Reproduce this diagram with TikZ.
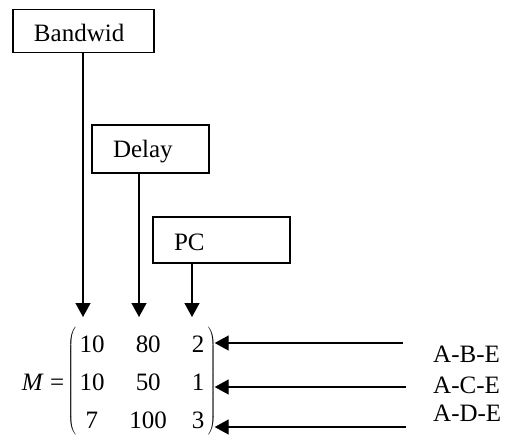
\documentclass[tikz,border=0pt]{standalone}
\usepackage{fontspec}
\setmainfont{Liberation Serif}
\usetikzlibrary{arrows.meta, matrix}

\begin{document}
\begin{tikzpicture}[
		x=1pt, y=-1pt,
		font=\fontsize{25}{30}\selectfont,
		metricbox/.style={rectangle,draw,line width=1.3pt,inner xsep=21pt,inner ysep=0pt,align=left,text height=22pt},
		pointer/.style={line width=1.3pt,-{Triangle[length=14pt,width=15pt]}},
		pathlabel/.style={inner sep=0pt,anchor=base west}
		]
	\useasboundingbox (0,0) rectangle (507,437);

	% metric boxes
	\node[metricbox, text width=99pt, minimum height=43pt](bw) at (83.5,31){Bandwid};
	\node[metricbox, text width=75pt, minimum height=48pt](dl) at (150.5,149){Delay};
	\node[metricbox, text width=95pt, minimum height=46pt](pc) at (221.5,240){PC};

	% the matrix
	\matrix (mat) at (142,381.5) [matrix of nodes, inner xsep=2pt, inner ysep=8pt,
		left delimiter=(, right delimiter=),
		nodes={inner sep=0pt, text height=17pt, text depth=0pt},
		column sep=25pt, row sep=21pt]
	{
		10 & 80 & 2 \\
		10 & 50 & 1 \\
		7 & 100 & 3 \\
	};
	\node[anchor=base east, inner sep=0pt](lhs) at ([xshift=-15pt]mat-2-1.base west){\textit{M} =};
	\coordinate (rpar) at ([xshift=8pt]mat.east);

	% path labels
	\node[pathlabel](abe) at (433,362){A-B-E};
	\node[pathlabel](ace) at (433,393){A-C-E};
	\node[pathlabel](ade) at (433,421){A-D-E};

	\coordinate (bwtip) at (83,317);
	\coordinate (dltip) at (139,317);
	\coordinate (pctip) at (192,317);
	\draw[pointer] (bw.south -| bwtip) -- (bwtip);
	\draw[pointer] (dl.south -| dltip) -- (dltip);
	\draw[pointer] (pc.south -| pctip) -- (pctip);

	\coordinate (r1) at (403,343);
	\coordinate (r2) at (406,387);
	\coordinate (r3) at (406,427);
	\draw[pointer] (r1) -- (r1 -| rpar);
	\draw[pointer] (r2) -- (r2 -| rpar);
	\draw[pointer] (r3) -- (r3 -| rpar);

\end{tikzpicture}
\end{document}
